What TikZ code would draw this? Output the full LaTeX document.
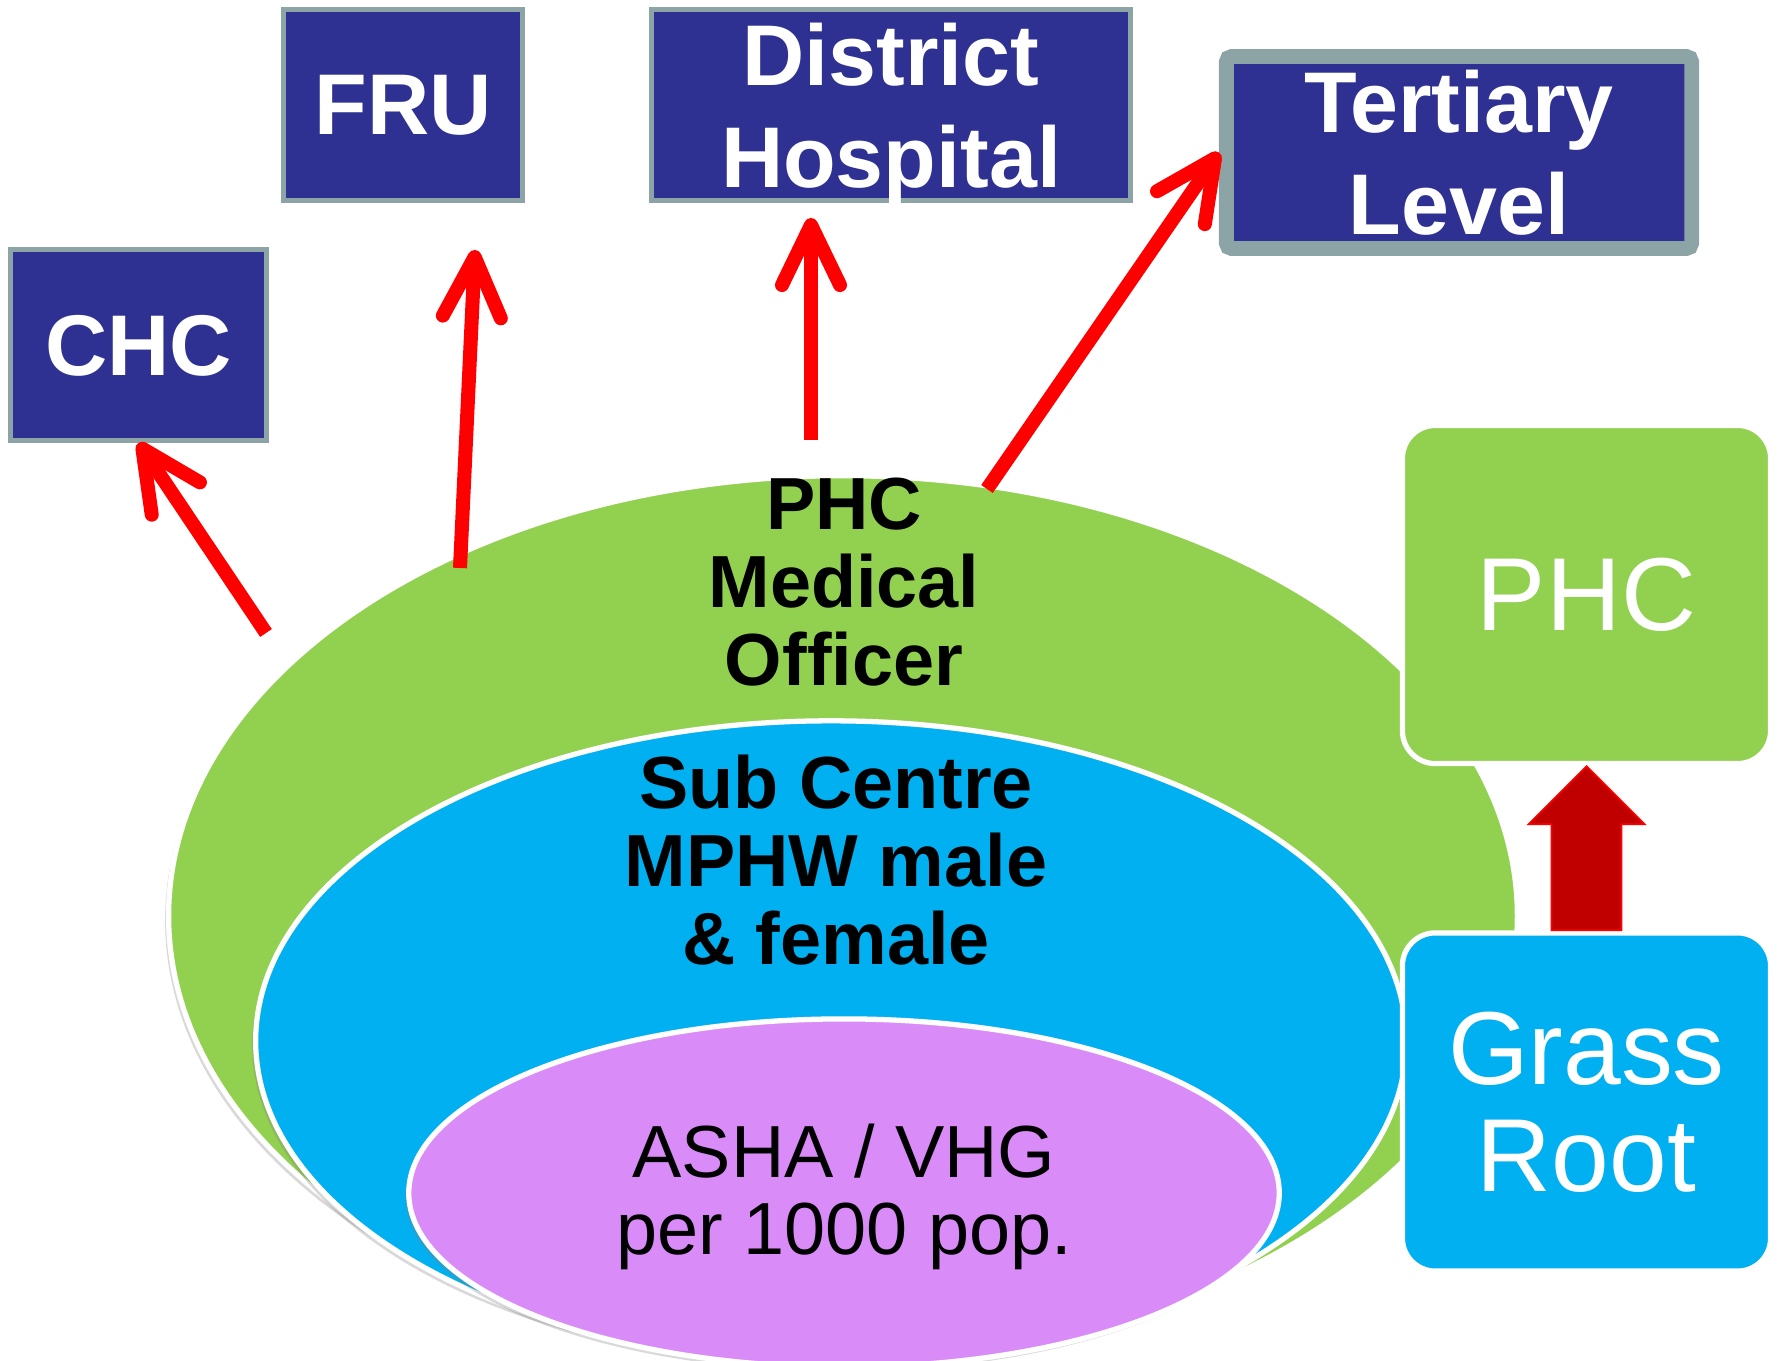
\documentclass[tikz,border=0pt]{standalone}
\usepackage{fontspec}
\setmainfont{Liberation Sans}
\usetikzlibrary{positioning,calc}
\usetikzlibrary{arrows.meta}
\usetikzlibrary{shapes.geometric,shadows}
\definecolor{levelblue}{RGB}{46,49,146}
\definecolor{levelgrey}{RGB}{141,164,167}
\definecolor{phcgreen}{RGB}{146,208,80}
\definecolor{subblue}{RGB}{0,176,240}
\definecolor{ashapurple}{RGB}{217,140,247}
\definecolor{blockred}{RGB}{192,0,0}
\tikzset{
        boxnode/.style={align=center,inner sep=0pt,text depth=0pt},
        % Referral level boxes
        node_level/.style={boxnode, rectangle, fill=levelblue, draw=levelgrey, line width=1.3pt, text=white, font=\fontsize{24.5}{29}\selectfont\bfseries},
        % Top referral level
        node_top_level/.style={node_level, line width=4.2pt, rounded corners=1.5pt},
        % Nested rings
        node_ring/.style={ellipse, draw=white, line width=1.5pt, inner sep=0pt, drop shadow={shadow xshift=-1pt, shadow yshift=-1.2pt, opacity=0.3}},
        % Ring labels
        node_ring_label/.style={boxnode, anchor=north, font=\fontsize{21}{22.2}\selectfont\bfseries},
        % Side boxes
        node_side/.style={boxnode, rectangle, rounded corners=0.33cm, draw=white, line width=1.5pt, text=white, minimum width=3.68cm, minimum height=3.38cm, font=\fontsize{29.5}{30.5}\selectfont},
        % Referral arrows
        edge_refer/.style={draw=red, line width=0.14cm, -{Straight Barb[length=0.6cm, width=0.58cm, round]}}
}
\begin{document}
\begin{tikzpicture}[x=0.01cm, y=-0.01cm]
    \useasboundingbox (0,0) rectangle (1778,1361);

    % rings
    \node[node_ring, fill=phcgreen, minimum width=13.48cm, minimum height=8.8cm] (ring_phc) at (843,916) {};
    \node[node_ring, fill=subblue, minimum width=11.5cm, minimum height=6.4cm] (ring_sub) at (831,1041) {};
    \node[node_ring, fill=ashapurple, minimum width=8.7cm, minimum height=3.48cm] (ring_asha) at (844,1193) {};

    \node[node_ring_label] (label_phc) at (844,477) {PHC\\Medical\\Officer};
    \node[node_ring_label] (label_sub) at (836,754) {Sub Centre\\MPHW male\\\& female};
    \node[node_ring_label, font=\fontsize{21}{22}\selectfont] (label_asha) at (844,1123) {ASHA / VHG\\per 1000 pop.};

    % referral levels
    \node[node_level, minimum width=2.56cm, minimum height=1.91cm] (chc) at (138.5,345) {CHC};
    \node[node_level, minimum width=2.39cm, minimum height=1.91cm] (fru) at (403,105) {FRU};
    \node[node_level, minimum width=4.79cm, minimum height=1.91cm] (district) at (891,105) {District\\Hospital};
    \node[node_top_level, minimum width=4.65cm, minimum height=1.92cm] (tertiary) at (1459,152.5) {Tertiary\\Level};

    \coordinate (chc_tail) at (266,633);
    \coordinate (fru_tail) at (460,568);
    \coordinate (fru_tip) at (475,250);
    \coordinate (district_tail) at (811,440);
    \coordinate (district_tip) at (811,218);
    \coordinate (tertiary_tail) at (987,489);

    \draw[edge_refer] (chc_tail) -- (chc.south);
    \draw[edge_refer] (fru_tail) -- (fru_tip);
    \draw[edge_refer] (district_tail) -- (district_tip);
    \draw[edge_refer] (tertiary_tail) -- (tertiary.west);

    % side boxes
    \node[node_side, fill=phcgreen] (phc) at (1586.5,594.5) {PHC};
    \node[node_side, fill=subblue] (grass) at (1586.5,1102) {Grass\\Root};

    \fill[blockred, draw=red, line width=0.5pt]
        ($(grass.north)+(-35,0)$) -- ($(phc.south)+(-35,58)$) -- ($(phc.south)+(-58,58)$)
        -- (phc.south) -- ($(phc.south)+(58,58)$) -- ($(phc.south)+(35,58)$)
        -- ($(grass.north)+(35,0)$) -- cycle;
\end{tikzpicture}
\end{document}
